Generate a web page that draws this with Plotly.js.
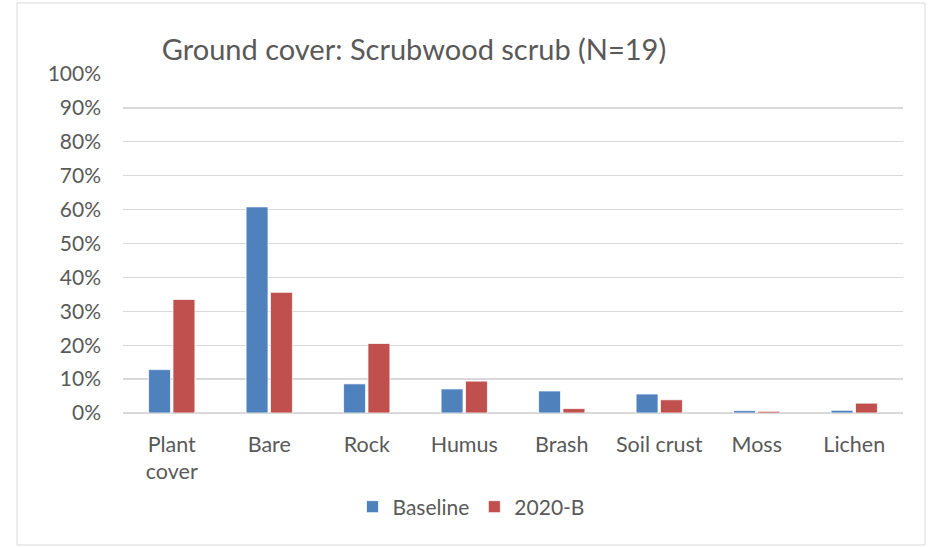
<!DOCTYPE html>
<html>
<head>
<meta charset="utf-8">
<script src="https://cdn.plot.ly/plotly-3.0.1.min.js"></script>
<style>
html,body{margin:0;padding:0;background:#fff;}
#chart{width:930px;height:547px;}
</style>
</head>
<body>
<div id="chart"></div>
<script>
const categories = ["Plant<br>cover", "Bare", "Rock", "Humus", "Brash", "Soil crust", "Moss", "Lichen"];
const baseline = [12.8, 60.8, 8.6, 7.1, 6.5, 5.6, 0.7, 0.8];
const b2020 = [33.5, 35.6, 20.5, 9.4, 1.3, 3.9, 0.5, 2.9];
const seriesNames = ["Baseline", "2020-B"];
const yTickVals = [0, 10, 20, 30, 40, 50, 60, 70, 80, 90, 100];
const yTickText = yTickVals.map(v => v + "%");

const FONT = "Lato, 'Liberation Sans', sans-serif";
const TXT = "#595959";

const traces = [
  {type: "bar", name: seriesNames[0], x: categories, y: baseline,
   marker: {color: "#4F81BD", line: {color: "#ffffff", width: 0.75}}},
  {type: "bar", name: seriesNames[1], x: categories, y: b2020,
   marker: {color: "#C0504D", line: {color: "#ffffff", width: 0.75}}}
];

const layout = {
  width: 930, height: 547,
  margin: {l: 123, r: 27, t: 74, b: 134},
  paper_bgcolor: "#ffffff", plot_bgcolor: "#ffffff",
  font: {family: FONT, color: TXT, size: 21},
  title: {text: "Ground cover: Scrubwood scrub (N=19)", font: {family: FONT, size: 29, color: TXT},
          xref: "container", x: 414/930, xanchor: "center",
          yref: "container", y: 1 - 50/547, yanchor: "middle"},
  barmode: "group", bargap: 0.5, bargroupgap: 0.1,
  xaxis: {tickfont: {size: 21.5, color: TXT}, showgrid: false, zeroline: false,
          showline: false, ticks: "", ticklabelstandoff: 16, fixedrange: true},
  yaxis: {range: [0, 100], tickvals: yTickVals, ticktext: yTickText,
          tickfont: {size: 21, color: TXT}, showgrid: true, gridcolor: "#d9d9d9", gridwidth: 1.3,
          zeroline: true, zerolinecolor: "#d9d9d9", zerolinewidth: 1.3,
          showline: false, ticks: "", ticklabelstandoff: 21, fixedrange: true},
  legend: {orientation: "h", xref: "paper", x: (471-123)/780, xanchor: "center",
           y: (413-507)/339, yanchor: "middle", font: {size: 21, color: TXT},
           itemwidth: 30, traceorder: "normal"},
  shapes: [{type: "rect", xref: "paper", yref: "paper",
            x0: (17-123)/780, x1: (925-123)/780, y0: (413-545)/339, y1: (413-3)/339,
            line: {color: "#d9d9d9", width: 1}, fillcolor: "rgba(0,0,0,0)", layer: "below"}],
  showlegend: true
};

Plotly.newPlot("chart", traces, layout, {displayModeBar: false, staticPlot: true});
</script>
</body>
</html>
